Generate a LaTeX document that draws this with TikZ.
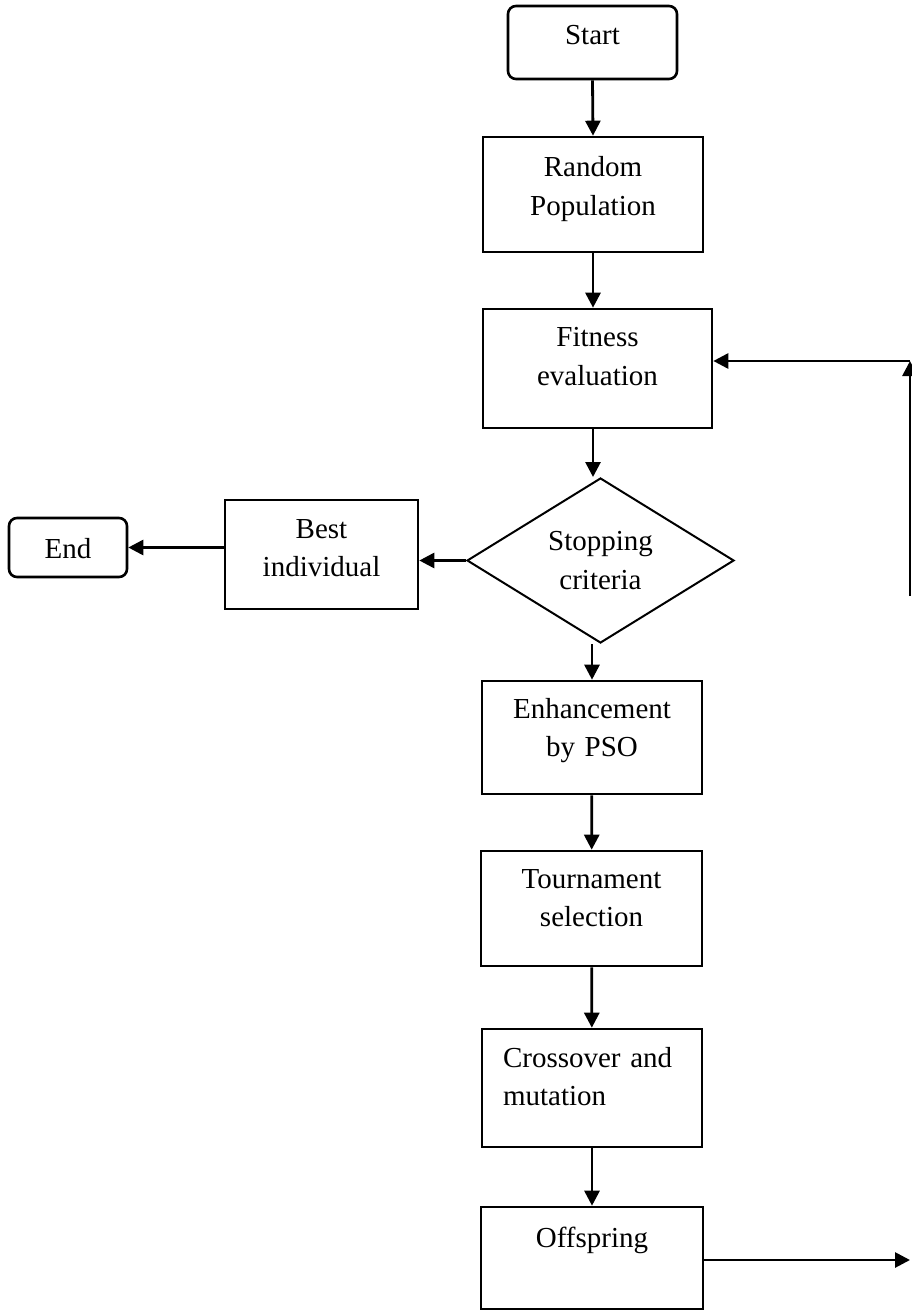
\documentclass[tikz,border=0pt]{standalone}
\usepackage{fontspec}
\setmainfont{Liberation Serif}
\usetikzlibrary{shapes.geometric}
\usetikzlibrary{arrows.meta}

\tikzset{
  blk/.style={draw,line width=1.3pt,inner sep=0pt,align=center},
  term/.style={blk,rounded corners=4pt},
  dec/.style={draw,diamond,line width=1pt,inner sep=0pt,shape aspect=1.62,
    minimum width=133.5pt,minimum height=82.5pt,align=center},
  arr/.style={line width=1.4pt,-{Triangle[length=7.5pt,width=7.5pt]}}
}

\begin{document}
\begin{tikzpicture}[x=0.5pt,y=-0.5pt,font=\fontsize{14.5pt}{19.2pt}\selectfont]
\useasboundingbox (0,0) rectangle (911,1310);

\node[term,text width=84.5pt,text height=19.5pt,text depth=17pt] (start) at (592.5,42.5) {Start};
\node[blk,text width=110pt,text height=20pt,text depth=37.5pt] (rp) at (593,194.5) {Random\\Population};
\node[blk,text width=114.5pt,text height=19pt,text depth=40.5pt] (fit) at (597.5,368.5) {Fitness\\evaluation};
\node[dec] (stop) at (600.5,560.5) {Stopping\\criteria};
\node[blk,text width=96.5pt,text height=19pt,text depth=35.5pt] (best) at (321.5,554.5) {Best\\individual};
\node[term,text width=59pt,text height=20pt,text depth=9.5pt] (finish) at (68,547.5) {End};
\node[blk,text width=110pt,text height=18.5pt,text depth=38pt] (pso) at (592,737.5) {Enhancement\\by PSO};
\node[blk,text width=110.5pt,text height=18.5pt,text depth=39pt] (tour) at (591.5,908.5) {Tournament\\selection};
\node[blk,align=left,inner xsep=10.5pt,text width=89pt,text height=19pt,text depth=40pt] (cross) at (592,1088) {Crossover and\\mutation};
\node[blk,text width=111pt,text height=20pt,text depth=31pt] (off) at (592,1258) {Offspring};

% loop back
\coordinate (rb) at (910,1260);
\coordinate (rm) at (910,596);
\coordinate (rt) at (910,361);

\draw[arr] (start.south) -- (rp.north);
\draw[arr] (rp.south) -- (rp.south |- fit.north);
\draw[arr] (rp.south |- fit.south) -- (rp.south |- stop.north);
\draw[arr] (pso.north |- stop.south) -- (pso.north);
\draw[arr] (pso) -- (tour);
\draw[arr] (tour) -- (cross);
\draw[arr] (cross) -- (off);
\draw[arr] (stop.west) -- (stop.west -| best.east);
\draw[arr] (best.west |- finish.east) -- (finish.east);
\draw[arr] (off.east |- rb) -- (rb);
\draw[arr] (rm) -- (rt);
\draw[arr] (rt) -- (rt -| fit.east);
\end{tikzpicture}
\end{document}
